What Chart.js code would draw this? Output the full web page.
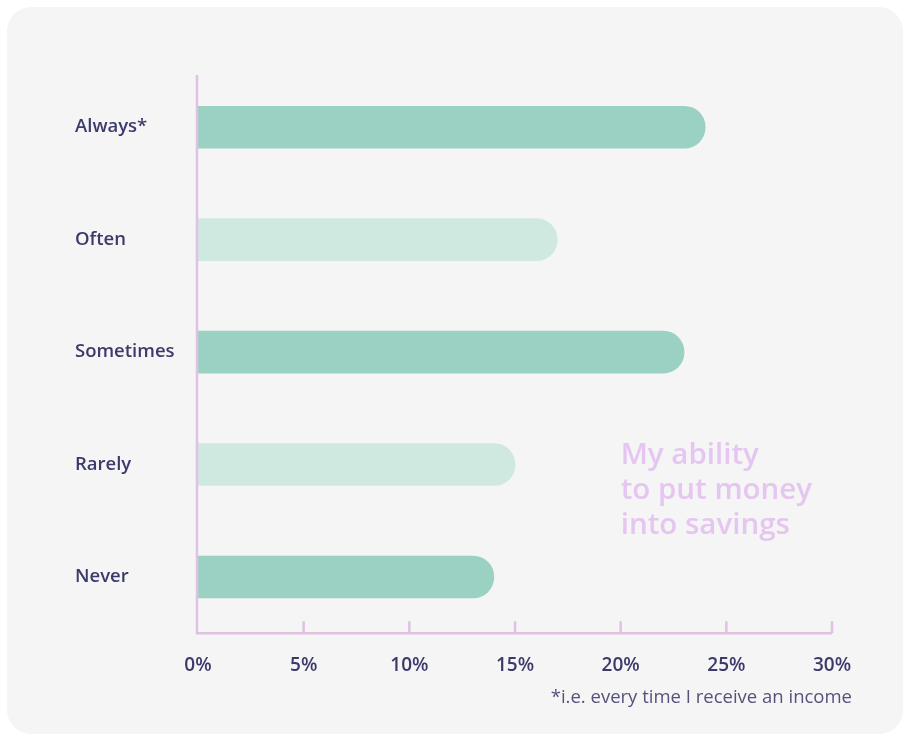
<!DOCTYPE html>
<html>
<head>
<meta charset="utf-8">
<script src="https://cdn.jsdelivr.net/npm/chart.js@4"></script>
<style>
  html, body { margin: 0; padding: 0; background: #ffffff; }
  #wrap { position: relative; width: 906px; height: 736px; }
  #card { position: absolute; left: 7px; top: 7px; width: 896px; height: 727px; background: #f5f5f5; border-radius: 24px; }
  canvas { position: absolute; left: 0; top: 0; }
</style>
</head>
<body>
<div id="wrap">
  <div id="card"></div>
  <canvas id="c" width="906" height="736"></canvas>
</div>
<script>
const categories = ["Always*", "Often", "Sometimes", "Rarely", "Never"];
const values = [24, 17, 23, 15, 14];
const barColors = ["#9bd1c3", "#cfe8e0", "#9bd1c3", "#cfe8e0", "#9bd1c3"];
const tickValues = [0, 5, 10, 15, 20, 25, 30];
const annotationLines = ["My ability", "to put money", "into savings"];
const footnote = "*i.e. every time I receive an income";

const FONT = "'Open Sans', 'Lato', sans-serif";
const LABEL_COLOR = "#3c3a6b";
const AXIS_COLOR = "#dfc2e2";

const decor = {
  id: 'decor',
  afterDraw(chart) {
    const ctx = chart.ctx;
    const xs = chart.scales.x, ys = chart.scales.y;
    const area = chart.chartArea;
    ctx.save();
    ctx.strokeStyle = AXIS_COLOR;
    ctx.lineWidth = 2.5;
    ctx.beginPath();
    ctx.moveTo(area.left - 1, area.top + 4);
    ctx.lineTo(area.left - 1, area.bottom);
    ctx.lineTo(xs.getPixelForValue(30), area.bottom);
    ctx.stroke();
    tickValues.forEach(v => {
      if (v === 0) return;
      const px = xs.getPixelForValue(v);
      ctx.beginPath();
      ctx.moveTo(px, area.bottom);
      ctx.lineTo(px, area.bottom - 12);
      ctx.stroke();
    });
    ctx.fillStyle = "#e5c6f1";
    ctx.font = "600 29.5px " + FONT;
    ctx.textAlign = "left";
    ctx.textBaseline = "middle";
    const ax = xs.getPixelForValue(20);
    const ay = ys.getPixelForValue(3) - 9;
    annotationLines.forEach((t, i) => ctx.fillText(t, ax, ay + i * 35));
    ctx.fillStyle = "#55537c";
    ctx.font = "400 18.5px " + FONT;
    ctx.textAlign = "right";
    ctx.fillText(footnote, xs.getPixelForValue(30) + 20, area.bottom + 65);
    ctx.restore();
  }
};

new Chart(document.getElementById('c'), {
  type: 'bar',
  data: {
    labels: categories,
    datasets: [{
      data: values,
      backgroundColor: barColors,
      barThickness: 42,
      borderRadius: { topRight: 21, bottomRight: 21, topLeft: 0, bottomLeft: 0 },
      borderSkipped: false
    }]
  },
  options: {
    indexAxis: 'y',
    responsive: false,
    animation: false,
    layout: { padding: { left: 75, right: 74, top: 71, bottom: 38 } },
    plugins: { legend: { display: false }, tooltip: { enabled: false } },
    scales: {
      x: {
        min: 0, max: 30,
        afterBuildTicks(scale) { scale.ticks = tickValues.map(v => ({ value: v })); },
        grid: { display: false, drawTicks: false },
        border: { display: false },
        ticks: {
          padding: 21,
          color: LABEL_COLOR,
          font: { family: FONT, size: 19, weight: '600' },
          callback: v => v + '%'
        }
      },
      y: {
        afterFit(scale) { scale.width = 123; },
        grid: { display: false, drawTicks: false },
        border: { display: false },
        ticks: {
          crossAlign: 'far',
          padding: 0,
          color: LABEL_COLOR,
          font: { family: FONT, size: 18.5, weight: '600' }
        }
      }
    }
  },
  plugins: [decor]
});
</script>
</body>
</html>
